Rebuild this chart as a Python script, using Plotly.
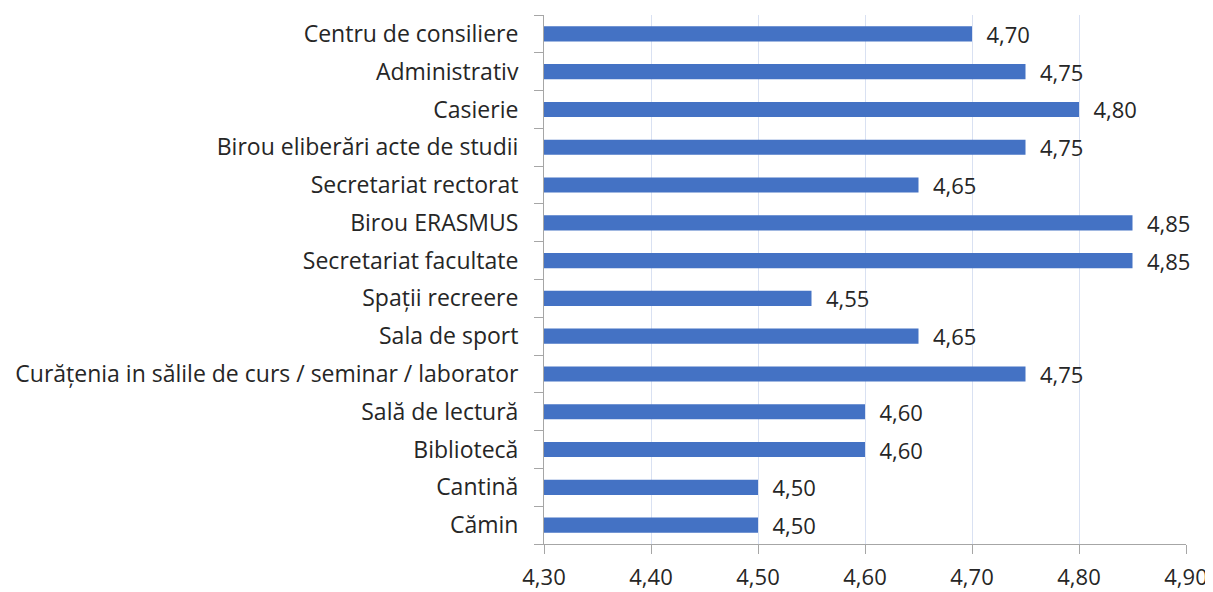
import plotly.graph_objects as go

categories = [
    "Cămin",
    "Cantină",
    "Bibliotecă",
    "Sală de lectură",
    "Curățenia in sălile de curs / seminar / laborator",
    "Sala de sport",
    "Spații recreere",
    "Secretariat facultate",
    "Birou ERASMUS",
    "Secretariat rectorat",
    "Birou eliberări acte de studii",
    "Casierie",
    "Administrativ",
    "Centru de consiliere",
]
values = [4.50, 4.50, 4.60, 4.60, 4.75, 4.65, 4.55, 4.85, 4.85, 4.65, 4.75, 4.80, 4.75, 4.70]
x_ticks = [4.30, 4.40, 4.50, 4.60, 4.70, 4.80, 4.90]

FONT = "Open Sans"
fig = go.Figure(
    go.Bar(
        x=values,
        y=categories,
        orientation="h",
        marker=dict(color="#4472C4", line=dict(width=0)),
        texttemplate="\u00a0\u00a0%{x:.2f}",
        textposition="outside",
        constraintext="none",
        textfont=dict(family=FONT, size=22, color="#262626"),
        cliponaxis=False,
        width=0.4,
    )
)

fig.update_layout(
    width=1213,
    height=592,
    margin=dict(l=536, r=35, t=7, b=56),
    paper_bgcolor="white",
    plot_bgcolor="white",
    separators=", ",
    showlegend=False,
    font=dict(family=FONT, size=22, color="#262626"),
)
fig.update_xaxes(
    range=[4.30, 4.90],
    tickvals=x_ticks,
    tickformat=".2f",
    automargin=False,
    showgrid=True,
    gridcolor="#D9E1F2",
    gridwidth=1,
    zeroline=False,
    showline=True,
    linecolor="#A6A6A6",
    linewidth=1,
    ticks="outside",
    ticklen=9,
    tickcolor="#A6A6A6",
    ticklabelstandoff=5,
    tickfont=dict(family=FONT, size=22, color="#262626"),
)
fig.update_yaxes(
    type="category",
    categoryorder="array",
    categoryarray=categories,
    automargin=False,
    showline=True,
    linecolor="#A6A6A6",
    linewidth=1,
    ticks="outside",
    tickson="boundaries",
    ticklen=9,
    tickcolor="#A6A6A6",
    showgrid=False,
    ticklabelstandoff=20,
    tickfont=dict(family=FONT, size=23, color="#262626"),
)

fig.write_html("out.html")
